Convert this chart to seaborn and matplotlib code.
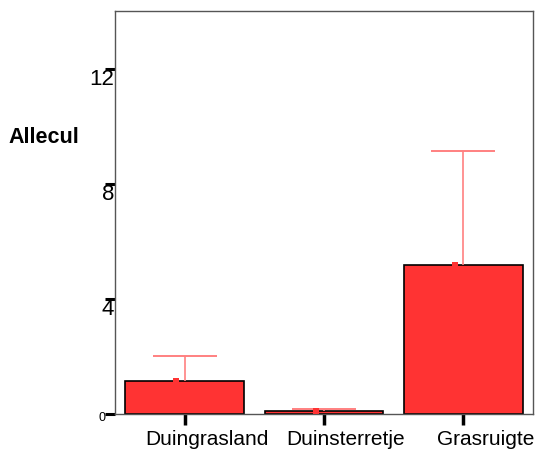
import matplotlib
matplotlib.use("Agg")
import matplotlib.pyplot as plt
import matplotlib.transforms as mtransforms
import seaborn as sns
import pandas as pd

# Mean Allecul per vegetation type with upper error limit
categories = ["Duingrasland", "Duinsterretje", "Grasruigte"]
means = [1.15, 0.10, 5.18]
upper = [2.02, 0.17, 9.15]
yticks = [0, 4, 8, 12]

sns.set_theme(style="white")
plt.rcParams["font.family"] = ["Liberation Sans", "DejaVu Sans"]
plt.rcParams["text.color"] = "black"
plt.rcParams["xtick.color"] = "black"
plt.rcParams["ytick.color"] = "black"

df = pd.DataFrame({"type": categories, "Allecul": means})

fig = plt.figure(figsize=(5.35, 4.52), dpi=100)
ax = fig.add_axes([115 / 535, 1 - 415 / 452, 418 / 535, 403 / 452])

sns.barplot(data=df, x="type", y="Allecul", color="#ff3333", saturation=1,
            width=0.85, edgecolor="black", linewidth=1.2, ax=ax, zorder=2)

xs = list(range(len(categories)))
# upper error whiskers with caps
ax.vlines(xs, means, upper, color="#ff8080", linewidth=1.2, zorder=3)
ax.hlines(upper, [x - 0.23 for x in xs], [x + 0.23 for x in xs],
          color="#ff8080", linewidth=1.4, zorder=3)
ax.scatter([x - 0.06 for x in xs], means, marker="s", s=22, color="#ff3333",
           zorder=4, linewidths=0)

ax.set_ylim(0, 14)
ax.set_xlim(-0.5, 2.5)
ax.set_yticks(yticks)
ax.set_yticklabels([str(t) for t in yticks])
ax.tick_params(axis="y", length=7, width=2.2, color="black", labelcolor="black",
               pad=0, direction="out", left=True)
ax.tick_params(axis="x", length=8, width=2.5, color="black", labelcolor="black",
               pad=3, direction="out", bottom=True, labelsize=15)

ydown = mtransforms.ScaledTranslation(9 / 100, -7 / 100, fig.dpi_scale_trans)
for lbl in ax.get_yticklabels():
    if lbl.get_text() == "0":
        lbl.set_fontsize(9)
        lbl.set_transform(lbl.get_transform() + mtransforms.ScaledTranslation(0, -2 / 100, fig.dpi_scale_trans))
    else:
        lbl.set_fontsize(16)
        lbl.set_transform(lbl.get_transform() + ydown)

xright = mtransforms.ScaledTranslation(22 / 100, 0, fig.dpi_scale_trans)
for lbl in ax.get_xticklabels():
    lbl.set_transform(lbl.get_transform() + xright)

for s in ax.spines.values():
    s.set_color("#555555")
    s.set_linewidth(1.0)
    s.set_visible(True)

ax.set_xlabel("")
ax.set_ylabel("")
fig.text(8 / 535, 1 - 138 / 452, "Allecul", ha="left", va="center",
         fontsize=15.5, fontweight="bold", color="black")

fig.savefig("out.png", dpi=100)
